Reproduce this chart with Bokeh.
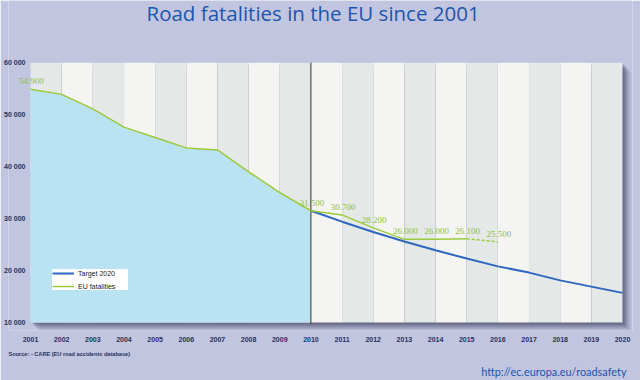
from bokeh.plotting import figure
from bokeh.models import (FixedTicker, Legend, LegendItem, Title, ColumnDataSource,
                          LabelSet, Label)
from bokeh.embed import file_html
from bokeh.resources import INLINE

# ---- data -------------------------------------------------------------
years_eu = [2001, 2002, 2003, 2004, 2005, 2006, 2007, 2008,
            2009, 2010, 2011, 2012, 2013, 2014, 2015, 2016]
eu_fatalities = [54900, 53900, 51100, 47600, 45600, 43600, 43200, 39000,
                 35000, 31500, 30700, 28200, 26000, 26000, 26100, 25500]

years_target = [2010, 2011, 2012, 2013, 2014, 2015, 2016, 2017, 2018, 2019, 2020]
target_2020 = [31500, 29400, 27400, 25600, 23900, 22300, 20800, 19600, 18100, 16900, 15700]

labelled_years = [2001, 2010, 2011, 2012, 2013, 2014, 2015, 2016]

x_ticks = list(range(2001, 2021))
y_ticks = [10000, 20000, 30000, 40000, 50000, 60000]
y_tick_labels = ["10 000", "20 000", "30 000", "40 000", "50 000", "60 000"]

# ---- styling ----------------------------------------------------------
BG = "#c1c5e0"
BLUE = "#2f67c0"
TITLE_BLUE = "#1c55ae"
GREEN = "#9acb3c"
LABEL_GREEN = "#8fc23a"
AREA = "#b9e2f3"
STRIPE_A = "#e4e8e7"
STRIPE_B = "#f4f4f2"
NAVY = "#27325e"
TICK_FONT = "Liberation Sans"

X0, X1 = 2001, 2020
Y0, Y1 = 10000, 60000
PX_X = 31.16          # pixels per year
PX_Y = 5.18 / 1000    # pixels per fatality

# the frame reaches past the panel on the left, top and right so that
# labels and the heading can sit in that margin
x_start = X0 - 22 / PX_X
x_end = X1 + 10 / PX_X
y_start = Y0 - 8 / PX_Y
y_end = Y1 + 62 / PX_Y

p = figure(width=640, height=380, output_backend="svg", toolbar_location=None,
           title=None, x_range=(x_start, x_end), y_range=(y_start, y_end),
           min_border_left=8, min_border_right=8, min_border_top=0, min_border_bottom=50)
p.background_fill_color = BG
p.border_fill_color = BG
p.outline_line_color = None
p.xgrid.visible = False
p.ygrid.visible = False

# soft drop shadow of the panel
for k, a in [(9, 0.08), (7, 0.14), (5, 0.22), (3, 0.30), (1, 0.30)]:
    p.quad(left=X0 + k / PX_X, right=X1 + k / PX_X,
           bottom=Y0 - k / PX_Y, top=Y1 - k / PX_Y,
           fill_color="#3a3e5c", fill_alpha=a, line_color=None)

# alternating year stripes
stripe_left = x_ticks[:-1]
stripe_right = x_ticks[1:]
stripe_colors = [STRIPE_A if i % 2 == 0 else STRIPE_B for i in range(len(stripe_left))]
p.quad(left=stripe_left, right=stripe_right, bottom=Y0, top=Y1,
       fill_color=stripe_colors, line_color=None)

# shaded area under the observed series up to 2010
n_area = years_eu.index(2010) + 1
p.varea(x=years_eu[:n_area], y1=Y0, y2=eu_fatalities[:n_area], fill_color=AREA)

# 2010 marker line
p.segment(x0=[2010], y0=[Y0 - 1.5 / PX_Y], x1=[2010], y1=[Y1], line_color="#333333", line_width=1)

# target path
r_target = p.line(years_target, target_2020, line_color=BLUE, line_width=2)

# observed fatalities (last year provisional, dashed)
r_eu = p.line(years_eu[:-1], eu_fatalities[:-1], line_color=GREEN, line_width=1.5)
p.line(years_eu[-2:], eu_fatalities[-2:], line_color=GREEN, line_width=1.5, line_dash="3 2")

# value labels
lab_vals = [eu_fatalities[years_eu.index(y)] for y in labelled_years]
lab_src = ColumnDataSource(dict(
    x=labelled_years, y=lab_vals,
    t=[f"{v:,}".replace(",", ".") for v in lab_vals]))
p.add_layout(LabelSet(x="x", y="y", text="t", source=lab_src, text_color=LABEL_GREEN,
                      text_font="Open Sans", text_font_size="9px",
                      text_align="center", text_baseline="middle",
                      x_offset=1, y_offset=8))

# heading
p.add_layout(Label(x=X0 + 116 / PX_X, y=Y1 + 50 / PX_Y,
                   text="Road fatalities in the EU since 2001",
                   text_font="Open Sans", text_font_size="20.5px",
                   text_color=TITLE_BLUE, text_align="left", text_baseline="middle"))

# axes
p.xaxis.ticker = FixedTicker(ticks=x_ticks)
p.yaxis.ticker = FixedTicker(ticks=y_ticks)
p.yaxis.major_label_overrides = {t: l for t, l in zip(y_ticks, y_tick_labels)}
for ax in (p.xaxis[0], p.yaxis[0]):
    ax.axis_line_color = None
    ax.major_tick_line_color = None
    ax.minor_tick_line_color = None
    ax.major_tick_out = 0
    ax.major_tick_in = 0
    ax.minor_tick_out = 0
    ax.minor_tick_in = 0
    ax.major_label_text_font = TICK_FONT
    ax.major_label_text_font_size = "7px"
    ax.major_label_text_color = NAVY
    ax.major_label_text_font_style = "bold"
p.yaxis.major_label_standoff = -17
p.xaxis.major_label_standoff = 6

# legend
legend = Legend(items=[LegendItem(label="Target 2020", renderers=[r_target]),
                       LegendItem(label="EU fatalities", renderers=[r_eu])],
                location=(44, 40), orientation="vertical",
                label_text_font=TICK_FONT, label_text_font_size="7px",
                label_text_color="#222222", glyph_width=22, glyph_height=8,
                label_height=8, label_width=50, label_standoff=4, spacing=5,
                padding=7, margin=0,
                background_fill_color="white", background_fill_alpha=1,
                border_line_color=None)
p.add_layout(legend, "center")

# footer texts
p.add_layout(Title(text="Source: - CARE (EU road accidents database)", align="left",
                   text_font=TICK_FONT, text_font_size="5.6px", text_font_style="bold",
                   text_color=NAVY, offset=0, standoff=8), "below")
p.add_layout(Title(text="http://ec.europa.eu/roadsafety", align="right", offset=6,
                   standoff=4, text_font="Lato", text_font_size="10.9px",
                   text_font_style="normal", text_color=TITLE_BLUE), "below")

open("out.html", "w").write(file_html(p, INLINE))
